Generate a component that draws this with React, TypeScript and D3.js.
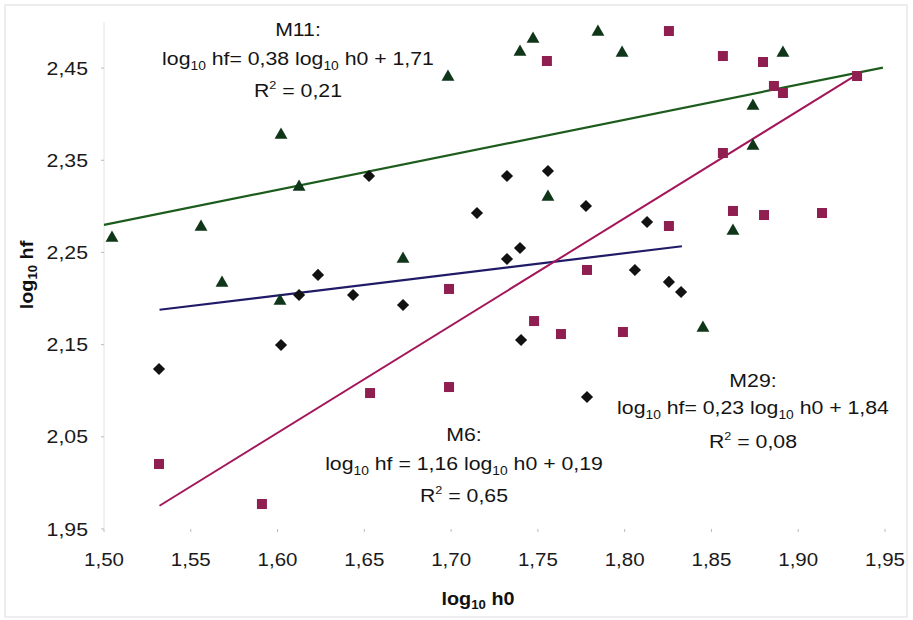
import React from "react";
import * as d3 from "d3";

// ---- data ----
const xTicks = [1.5, 1.55, 1.6, 1.65, 1.7, 1.75, 1.8, 1.85, 1.9, 1.95];
const yTicks = [1.95, 2.05, 2.15, 2.25, 2.35, 2.45];

// M11 (triangles)
const m11X = [1.5046, 1.5559, 1.568, 1.602, 1.6014, 1.6124, 1.6723, 1.6982, 1.7397, 1.7472, 1.7558, 1.7846, 1.7985, 1.8451, 1.8624, 1.8739, 1.8739, 1.8912];
const m11Y = [2.2668, 2.2787, 2.218, 2.3785, 2.1984, 2.3221, 2.244, 2.4414, 2.4686, 2.4827, 2.3112, 2.4902, 2.4675, 2.1691, 2.2744, 2.3666, 2.41, 2.4675];

// M6 (squares)
const m6X = [1.5317, 1.591, 1.6533, 1.6988, 1.6988, 1.7478, 1.7552, 1.7633, 1.7783, 1.799, 1.8255, 1.8255, 1.8566, 1.8566, 1.8624, 1.8797, 1.8803, 1.886, 1.8912, 1.9137, 1.9339];
const m6Y = [2.0205, 1.9771, 2.0975, 2.104, 2.2104, 2.1756, 2.4577, 2.1615, 2.231, 2.1637, 2.4902, 2.2787, 2.3579, 2.4631, 2.295, 2.4566, 2.2906, 2.4306, 2.423, 2.2928, 2.4414];

// M29 (diamonds)
const m29X = [1.5317, 1.602, 1.6124, 1.6233, 1.6435, 1.6527, 1.6723, 1.7149, 1.7322, 1.7322, 1.7397, 1.7403, 1.7558, 1.7777, 1.7783, 1.8059, 1.8129, 1.8255, 1.8325];
const m29Y = [2.1236, 2.1496, 2.2038, 2.2256, 2.2038, 2.3329, 2.193, 2.2928, 2.3329, 2.2429, 2.2548, 2.155, 2.3384, 2.3004, 2.0932, 2.231, 2.283, 2.218, 2.2071];

// trend lines: [slope, intercept], [xStart, xEnd]
const m11Fit = [0.38, 1.71];
const m11Range = [1.5, 1.9488];
const m6Fit = [1.164, 0.192];
const m6Range = [1.532, 1.9333];
const m29Fit = [0.229, 1.837];
const m29Range = [1.532, 1.833];

const fmt = (v: number) => v.toFixed(2).replace(".", ",");

const FONT = "'Liberation Sans', Arial, Helvetica, sans-serif";
const SX = 1.15; // horizontal stretch of the scanned text

export default function App() {
  const W = 913;
  const H = 620;
  const x = d3.scaleLinear().domain([1.5, 1.95]).range([104, 885]);
  const y = d3.scaleLinear().domain([1.95, 2.5]).range([529, 22]);

  const fitLine = (fit: number[], range: number[]) =>
    d3.line<number>().x((d) => x(d)).y((d) => y(fit[0] * d + fit[1]))(range) || "";

  const tri = d3.symbol().type(d3.symbolTriangle).size(72)() || "";

  const T = (cx: number, cy: number, children: React.ReactNode, opts: any = {}) => (
    <g transform={`translate(${cx},${cy}) scale(${opts.sx ?? SX},1)`}>
      <text
        x={0}
        y={0}
        textAnchor={opts.anchor ?? "middle"}
        fontSize={opts.fs ?? 18.5}
        fontWeight={opts.bold ? "bold" : "normal"}
        fontFamily={FONT}
        fill={opts.fill ?? "#141414"}
      >
        {children}
      </text>
    </g>
  );

  const eq = (cx: number, cy: number, mid: string, post: string) =>
    T(
      cx,
      cy,
      <>
        <tspan>log</tspan>
        <tspan fontSize={12} dy={5}>10</tspan>
        <tspan dy={-5}>{mid}</tspan>
        <tspan fontSize={12} dy={5}>10</tspan>
        <tspan dy={-5}>{post}</tspan>
      </>
    );

  const r2 = (cx: number, cy: number, val: string) =>
    T(
      cx,
      cy,
      <>
        <tspan>R</tspan>
        <tspan fontSize={11} dy={-8}>2</tspan>
        <tspan dy={8}>{" = " + val}</tspan>
      </>
    );

  return (
    <svg
      width={W}
      height={H}
      style={{ position: "absolute", left: 0, top: 0, background: "#fff" }}
    >
      <rect x={0} y={0} width={W} height={H} fill="#fff" />
      {/* frame */}
      <rect x={5} y={5} width={902} height={612} fill="none" stroke="#dcdcdc" strokeWidth={1} />

      {/* axis (faint) */}
      <line x1={104} x2={104} y1={22} y2={529} stroke="#e4e4e4" strokeWidth={1} />
      {yTicks.map((t) => (
        <g key={"yt" + t}>
          <line x1={101} x2={104} y1={y(t)} y2={y(t)} stroke="#bbb" />
          {T(88, y(t) + 6.5, fmt(t), { anchor: "end", fs: 19, sx: 1.12, fill: "#1a1a1a" })}
        </g>
      ))}
      {xTicks.map((t) => (
        <g key={"xt" + t}>
          <line x1={x(t)} x2={x(t)} y1={529} y2={532} stroke="#bbb" />
          {T(x(t), 566, fmt(t), { fs: 19, sx: 1.08, fill: "#1a1a1a" })}
        </g>
      ))}

      {/* axis titles */}
      {T(
        478,
        605,
        <>
          <tspan>log</tspan>
          <tspan fontSize={12} dy={4}>10</tspan>
          <tspan dy={-4}> h0</tspan>
        </>,
        { fs: 18, bold: true, sx: 1.1, fill: "#111" }
      )}
      <g transform="translate(33,275) rotate(-90) scale(1.1,1)">
        <text x={0} y={0} textAnchor="middle" fontSize={18} fontWeight="bold" fontFamily={FONT} fill="#111">
          <tspan>log</tspan>
          <tspan fontSize={12} dy={4}>10</tspan>
          <tspan dy={-4}> hf</tspan>
        </text>
      </g>

      {/* trend lines */}
      <path d={fitLine(m11Fit, m11Range)} fill="none" stroke="#1d5c1d" strokeWidth={2.2} />
      <path d={fitLine(m29Fit, m29Range)} fill="none" stroke="#1f1b66" strokeWidth={2.2} />
      <path d={fitLine(m6Fit, m6Range)} fill="none" stroke="#a3175a" strokeWidth={2} />

      {/* points */}
      {m29X.map((v, i) => (
        <rect
          key={"d" + i}
          x={-4.3}
          y={-4.3}
          width={8.6}
          height={8.6}
          transform={`translate(${x(v)},${y(m29Y[i])}) rotate(45)`}
          fill="#121212"
        />
      ))}
      {m6X.map((v, i) => (
        <rect key={"s" + i} x={x(v) - 5} y={y(m6Y[i]) - 5} width={10} height={10} fill="#8e1f50" />
      ))}
      {m11X.map((v, i) => (
        <path key={"t" + i} d={tri} transform={`translate(${x(v)},${y(m11Y[i]) + 1})`} fill="#10361a" />
      ))}

      {/* annotations */}
      {T(298, 36, "M11:")}
      {eq(298, 65, " hf= 0,38 log", " h0 + 1,71")}
      {r2(298, 97, "0,21")}

      {T(464, 441, "M6:")}
      {eq(464, 470, " hf = 1,16 log", " h0 + 0,19")}
      {r2(464, 502, "0,65")}

      {T(753, 387, "M29:")}
      {eq(753, 414, " hf= 0,23 log", " h0 + 1,84")}
      {r2(753, 448, "0,08")}
    </svg>
  );
}
